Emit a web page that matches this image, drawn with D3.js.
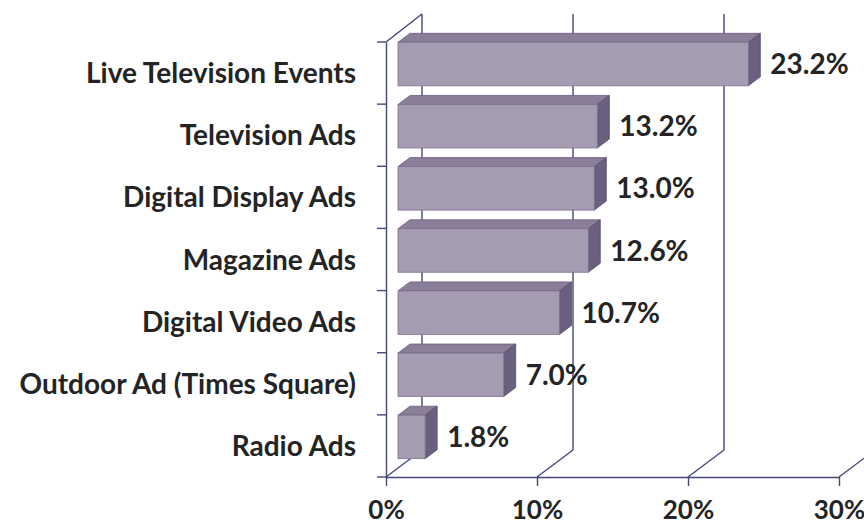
<!DOCTYPE html>
<html>
<head>
<meta charset="utf-8">
<script src="https://cdn.jsdelivr.net/npm/d3@7"></script>
<style>
  html, body { margin: 0; padding: 0; background: #ffffff; }
  svg { display: block; }
  text { font-family: Lato, "Open Sans", sans-serif; font-weight: 700; fill: #242424; }
</style>
</head>
<body>
<svg id="chart" width="864" height="524"></svg>
<script>
// Share of respondents by advertising channel
const categories = [
  "Live Television Events",
  "Television Ads",
  "Digital Display Ads",
  "Magazine Ads",
  "Digital Video Ads",
  "Outdoor Ad (Times Square)",
  "Radio Ads"
];
const values = [23.2, 13.2, 13.0, 12.6, 10.7, 7.0, 1.8];
const tickValues = [0, 10, 20, 30];
const tickLabels = ["0%", "10%", "20%", "30%"];

const svg = d3.select("#chart");

// Front plane of the 3-D box
const x = d3.scaleLinear().domain([0, 30]).range([386, 839]);
const y = d3.scaleBand().domain(categories).range([42, 477])
  .paddingInner(0.3).paddingOuter(0.15);
const floorY = 477;

// Oblique depth vector from the front plane to the back wall
const depth = { dx: 36, dy: -27 };
const barNear = 1 / 3, barFar = 2 / 3;
const gridColor = "#45467a";
const labelSize = 28;

const grid = svg.append("g").attr("fill", "none").attr("stroke", gridColor).attr("stroke-width", 1.4);

// Back-wall vertical gridlines
const backTop = 14;
grid.selectAll("line.back").data(tickValues).join("line")
  .attr("class", "back")
  .attr("x1", d => x(d) + depth.dx).attr("x2", d => x(d) + depth.dx)
  .attr("y1", backTop).attr("y2", floorY + depth.dy);

// Floor diagonals running back from each tick
grid.selectAll("line.floor").data(tickValues).join("line")
  .attr("class", "floor")
  .attr("x1", d => x(d)).attr("y1", floorY)
  .attr("x2", d => x(d) + depth.dx).attr("y2", floorY + depth.dy);

// Top edge of the side wall
grid.append("line")
  .attr("x1", x(0)).attr("y1", y.range()[0])
  .attr("x2", x(0) + depth.dx).attr("y2", backTop);

// Bars as three-faced prisms
const ox0 = depth.dx * barNear, oy0 = depth.dy * barNear;
const odx = depth.dx * (barFar - barNear), ody = depth.dy * (barFar - barNear);
const data = categories.map((c, i) => ({ c, v: values[i] }));

const bars = svg.append("g").selectAll("g").data(data).join("g");
bars.each(function (d) {
  const g = d3.select(this);
  const x0 = x(0) + ox0, x1 = x(d.v) + ox0;
  const y0 = y(d.c) + oy0, y1 = y0 + y.bandwidth();
  const pts = a => a.map(p => p.join(",")).join(" ");
  // top face
  g.append("polygon")
    .attr("points", pts([[x0, y0], [x0 + odx, y0 + ody], [x1 + odx, y0 + ody], [x1, y0]]))
    .attr("fill", "#8a7e98").attr("stroke", "#6a5e7e").attr("stroke-width", 0.8);
  // side face
  g.append("polygon")
    .attr("points", pts([[x1, y0], [x1 + odx, y0 + ody], [x1 + odx, y1 + ody], [x1, y1]]))
    .attr("fill", "#6a5f7e").attr("stroke", "#574c6c").attr("stroke-width", 0.8);
  // front face
  g.append("rect")
    .attr("x", x0).attr("y", y0)
    .attr("width", x1 - x0).attr("height", y1 - y0)
    .attr("fill", "#a69cb1").attr("stroke", "#7d7290").attr("stroke-width", 0.8);
  // value label
  g.append("text")
    .attr("x", x1 + odx + 10)
    .attr("y", (y0 + y1) / 2 + 10)
    .attr("font-size", labelSize)
    .text(d.v.toFixed(1) + "%");
});

// Category axis on the left edge of the side wall
const leftAxis = svg.append("g")
  .attr("transform", `translate(${x(0)},0)`)
  .call(d3.axisLeft(y).tickSize(0).tickPadding(30));
leftAxis.select(".domain").attr("stroke", gridColor).attr("stroke-width", 1.4);
leftAxis.selectAll("text")
  .attr("font-size", labelSize).attr("fill", "#242424")
  .attr("font-family", "Lato, 'Open Sans', sans-serif").attr("font-weight", 700)
  .attr("dy", "0.36em");
// tick marks on category boundaries
const bounds = d3.range(categories.length + 1).map(i => y.range()[0] + i * y.step());
leftAxis.selectAll("line.bound").data(bounds).join("line")
  .attr("class", "bound")
  .attr("x1", -9).attr("x2", 0)
  .attr("y1", d => d).attr("y2", d => d)
  .attr("stroke", gridColor).attr("stroke-width", 1.4);

// Value axis along the front floor edge
const bottomAxis = svg.append("g")
  .attr("transform", `translate(0,${floorY})`)
  .call(d3.axisBottom(x).tickValues(tickValues)
    .tickFormat((d, i) => tickLabels[i])
    .tickSize(9).tickSizeOuter(0).tickPadding(15));
bottomAxis.select(".domain").attr("stroke", gridColor).attr("stroke-width", 1.4);
bottomAxis.selectAll(".tick line").attr("stroke", gridColor).attr("stroke-width", 1.4);
bottomAxis.selectAll("text")
  .attr("font-size", 26).attr("fill", "#242424")
  .attr("font-family", "Lato, 'Open Sans', sans-serif").attr("font-weight", 700);
</script>
</body>
</html>
